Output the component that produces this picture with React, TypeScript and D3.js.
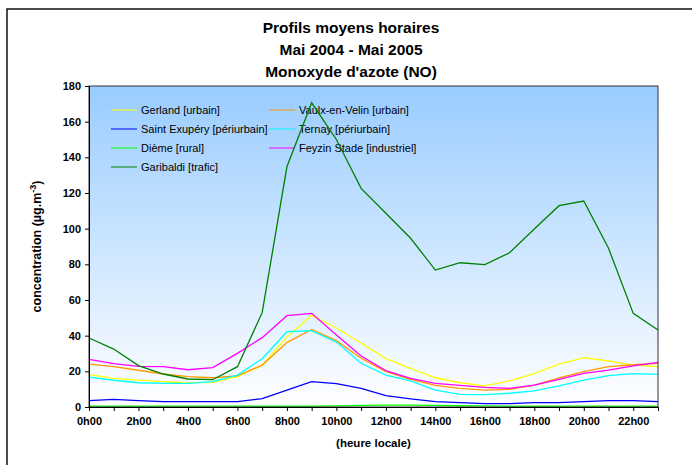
import React, { useEffect, useRef } from "react";
import * as d3 from "d3";

// hours 0h00 .. 23h00
const HOURS = d3.range(0, 24);
const TICK_LABELS = ["0h00", "2h00", "4h00", "6h00", "8h00", "10h00", "12h00", "14h00", "16h00", "18h00", "20h00", "22h00"];
const Y_TICKS = [0, 20, 40, 60, 80, 100, 120, 140, 160, 180];

const TITLE = ["Profils moyens horaires", "Mai 2004 - Mai 2005", "Monoxyde d'azote (NO)"];

// hourly mean NO concentrations (µg/m3)
const gerland = [18.1, 16.1, 15.1, 14.2, 13.6, 13.8, 17, 23.5, 39.1, 51.4, 44.3, 35.9, 27.1, 21.7, 16.4, 13.6, 11.9, 14.6, 18.7, 24.1, 27.7, 25.8, 23.5, 22.6];
const vaulx = [24.1, 22.6, 20.6, 18.5, 17, 16.4, 17.4, 23.5, 36.1, 43.5, 37.2, 27.3, 19.8, 15.5, 12.1, 10.5, 9.5, 9.9, 12.3, 16.4, 19.8, 22.6, 23.7, 24.5];
const saintExupery = [3.6, 4.3, 3.6, 3, 3, 3, 3, 4.7, 9.5, 14.2, 13.1, 10.5, 6.4, 4.5, 3, 2.4, 1.9, 1.9, 2.4, 2.4, 3, 3.6, 3.6, 3];
const ternay = [16.8, 15, 13.6, 13.3, 13.3, 14.2, 17.9, 27.1, 42.2, 42.8, 36.4, 24.5, 17.9, 14.6, 9.5, 7.1, 6.9, 7.7, 9, 11.8, 15.1, 17.6, 18.7, 18.3];
const dieme = [0.5, 0.5, 0.5, 0.5, 0.5, 0.5, 0.5, 0.5, 0.5, 0.5, 0.6, 0.9, 1, 1, 0.9, 0.7, 0.6, 0.5, 0.5, 0.5, 0.5, 0.5, 0.5, 0.5];
const feyzin = [26.7, 24.3, 22.8, 22.6, 20.9, 22.1, 30.1, 38.9, 51.2, 52.5, 40.4, 28.6, 20.4, 16.1, 13.3, 12.1, 11, 10.5, 12.3, 15.5, 18.9, 20.7, 23, 25];
const garibaldi = [38.7, 32.5, 23.2, 18.5, 15.7, 15.3, 22.6, 52.9, 134.7, 170.6, 150, 122.6, 108.6, 94.6, 76.8, 80.9, 79.8, 86.5, 99.8, 112.9, 115.5, 89, 52.5, 43.2];

const SERIES = [
  { name: "Gerland [urbain]", color: "#ffff00", values: gerland },
  { name: "Vaulx-en-Velin [urbain]", color: "#ff9900", values: vaulx },
  { name: "Saint Exupéry [périurbain]", color: "#0000ff", values: saintExupery },
  { name: "Ternay [périurbain]", color: "#00ffff", values: ternay },
  { name: "Dième [rural]", color: "#00ff00", values: dieme },
  { name: "Feyzin Stade [industriel]", color: "#ff00ff", values: feyzin },
  { name: "Garibaldi [trafic]", color: "#008000", values: garibaldi }
];

const W = 692,
  H = 465;
const margin = { left: 89, right: 34, top: 86, bottom: 58 };
const FONT = "'Liberation Sans', Arial, sans-serif";

export default function App() {
  const ref = useRef<SVGSVGElement>(null);

  useEffect(() => {
    const svg = d3.select(ref.current);
    svg.selectAll("*").remove();

    const width = W - margin.left - margin.right;
    const height = H - margin.top - margin.bottom;

    const x = d3.scaleLinear().domain([0, 23]).range([0, width]);
    const y = d3.scaleLinear().domain([0, 180]).range([height, 0]);

    // background gradient for the plot area
    const grad = svg
      .append("defs")
      .append("linearGradient")
      .attr("id", "bg")
      .attr("x1", 0)
      .attr("y1", 0)
      .attr("x2", 0)
      .attr("y2", 1);
    grad.append("stop").attr("offset", "0%").attr("stop-color", "#99ccff");
    grad.append("stop").attr("offset", "100%").attr("stop-color", "#ffffff");

    // outer frame
    svg
      .append("rect")
      .attr("x", 7)
      .attr("y", 9)
      .attr("width", 720)
      .attr("height", 500)
      .attr("fill", "#fff")
      .attr("stroke", "#111")
      .attr("stroke-width", 1.5);

    // title
    svg
      .append("g")
      .selectAll("text")
      .data(TITLE)
      .enter()
      .append("text")
      .attr("x", 351)
      .attr("y", (d, i) => 33 + i * 22)
      .attr("text-anchor", "middle")
      .attr("font-family", FONT)
      .attr("font-weight", "bold")
      .attr("font-size", 15.5)
      .attr("fill", "#000")
      .text(d => d);

    const g = svg.append("g").attr("transform", `translate(${margin.left}, ${margin.top})`);

    g.append("rect").attr("width", width).attr("height", height).attr("fill", "url(#bg)");

    // legend (drawn under the lines)
    const legend = g
      .selectAll(".legend")
      .data(SERIES)
      .enter()
      .append("g")
      .attr("class", "legend")
      .attr("transform", (d, i) => `translate(${22 + (i % 2) * 158}, ${24 + Math.floor(i / 2) * 19})`);
    legend
      .append("line")
      .attr("x1", 0)
      .attr("x2", 26)
      .attr("stroke", d => d.color)
      .attr("stroke-width", 1);
    legend
      .append("text")
      .attr("x", 30)
      .attr("dy", "0.35em")
      .attr("font-family", FONT)
      .attr("font-size", 11)
      .attr("fill", "#000")
      .text(d => d.name);

    const line = d3
      .line<number>()
      .x((d, i) => x(HOURS[i]))
      .y(d => y(d));

    g.selectAll(".series")
      .data(SERIES)
      .enter()
      .append("path")
      .attr("class", "series")
      .attr("d", d => line(d.values))
      .attr("fill", "none")
      .attr("stroke", d => d.color)
      .attr("stroke-width", 1.3);

    // plot border
    g.append("rect")
      .attr("width", width)
      .attr("height", height)
      .attr("fill", "none")
      .attr("stroke", "#333")
      .attr("stroke-width", 1);

    // y axis
    const yAxis = g.append("g").call(d3.axisLeft(y).tickValues(Y_TICKS).tickSize(4).tickPadding(4));
    yAxis.select(".domain").attr("stroke", "#000");
    yAxis
      .selectAll("text")
      .attr("font-family", FONT)
      .attr("font-weight", "bold")
      .attr("font-size", 11)
      .attr("fill", "#000");

    // x axis
    const xAxis = g
      .append("g")
      .attr("transform", `translate(0, ${height})`)
      .call(
        d3
          .axisBottom(x)
          .tickValues(HOURS)
          .tickSize(4)
          .tickPadding(6)
          .tickFormat(d => ((d as number) % 2 === 0 ? TICK_LABELS[(d as number) / 2] : ""))
      );
    xAxis.select(".domain").attr("stroke", "#000");
    xAxis
      .selectAll("text")
      .attr("font-family", FONT)
      .attr("font-weight", "bold")
      .attr("font-size", 11)
      .attr("fill", "#000");

    // axis titles
    g.append("text")
      .attr("x", width / 2)
      .attr("y", height + 40)
      .attr("text-anchor", "middle")
      .attr("font-family", FONT)
      .attr("font-weight", "bold")
      .attr("font-size", 11.5)
      .text("(heure locale)");

    const yl = g
      .append("text")
      .attr("transform", `translate(-48, ${height / 2}) rotate(-90)`)
      .attr("text-anchor", "middle")
      .attr("font-family", FONT)
      .attr("font-weight", "bold")
      .attr("font-size", 12.5);
    yl.append("tspan").text("concentration (µg.m");
    yl.append("tspan").attr("font-size", 9).attr("baseline-shift", "super").text("-3");
    yl.append("tspan").text(")");
  }, []);

  return (
    <svg
      ref={ref}
      width={W}
      height={H}
      style={{ position: "absolute", left: 0, top: 0, background: "#fff" }}
    />
  );
}
